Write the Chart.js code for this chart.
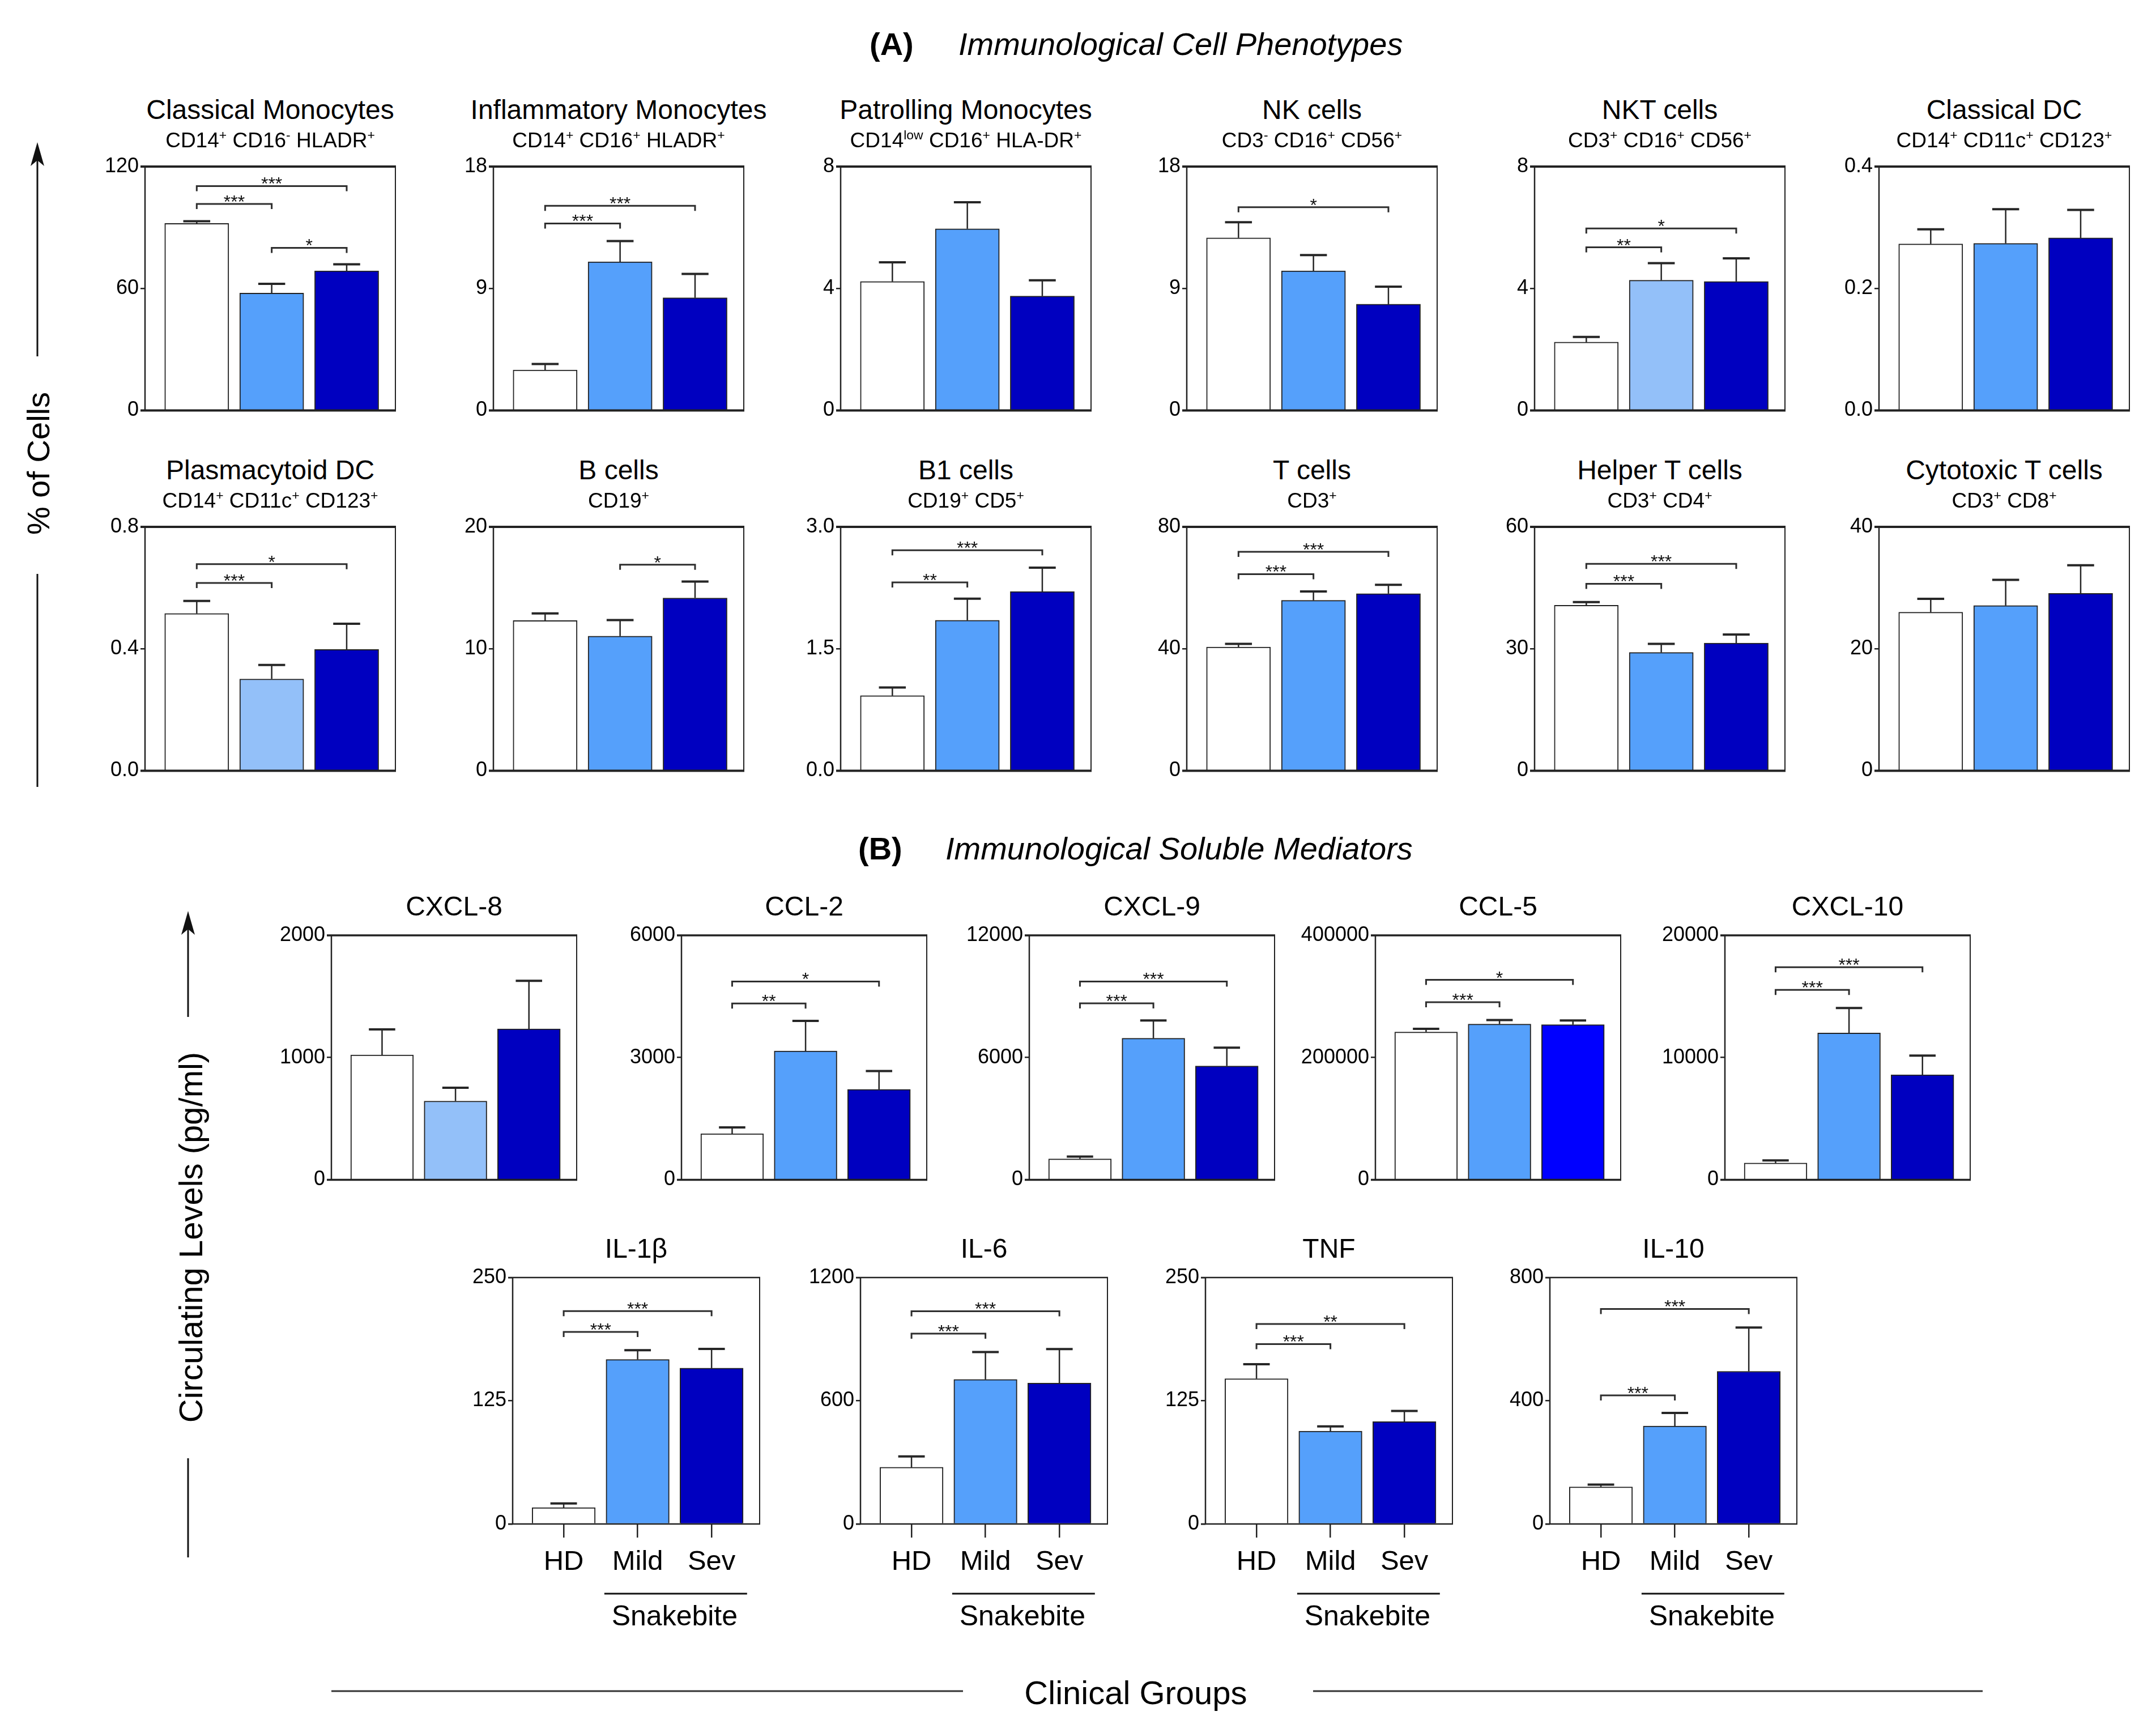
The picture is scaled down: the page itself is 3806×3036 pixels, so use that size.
<!DOCTYPE html>
<html><head><meta charset="utf-8">
<script src="https://cdn.jsdelivr.net/npm/chart.js@4.4.1/dist/chart.umd.min.js"></script>
<style>
html,body{margin:0;padding:0;background:#fff;}
#page{position:relative;width:3806px;height:3036px;overflow:hidden;background:#fff;font-family:"Liberation Sans",Arial,Helvetica,sans-serif;color:#000;}
.t{position:absolute;white-space:nowrap;line-height:1;transform:translate(-50%,-50%);}
.l{position:absolute;white-space:nowrap;line-height:1;transform:translate(0,-50%);}
.r{position:absolute;white-space:nowrap;line-height:1;transform:translate(-50%,-50%) rotate(-90deg);}
.sp{font-size:0.62em;position:relative;top:-0.6em;}
canvas{position:absolute;}
svg{position:absolute;left:0;top:0;}
</style></head><body><div id="page"></div>
<script>
// ---------------- DATA ----------------
const groups = ['HD', 'Mild', 'Sev'];

// (A) Immunological cell phenotypes (% of cells): mean, SEM, y ticks, significance [a, b, level, label]
const clasMonoMean = [92.0, 57.7, 68.7];   const clasMonoSem = [1.1, 4.6, 3.2];
const clasMonoTicks = ['0', '60', '120'];  const clasMonoSig = [[0,1,101.6,'***'],[0,2,110.4,'***'],[1,2,80.0,'*']];
const inflMonoMean = [2.98, 10.97, 8.31];  const inflMonoSem = [0.44, 1.53, 1.76];
const inflMonoTicks = ['0', '9', '18'];    const inflMonoSig = [[0,1,13.8,'***'],[0,2,15.1,'***']];
const patrMonoMean = [4.23, 5.96, 3.75];   const patrMonoSem = [0.63, 0.87, 0.52];
const patrMonoTicks = ['0', '4', '8'];     const patrMonoSig = [];
const nkMean = [12.74, 10.3, 7.84];        const nkSem = [1.15, 1.17, 1.29];
const nkTicks = ['0', '9', '18'];          const nkSig = [[0,2,15.0,'*']];
const nktMean = [2.24, 4.27, 4.23];        const nktSem = [0.17, 0.56, 0.76];
const nktTicks = ['0', '4', '8'];          const nktSig = [[0,1,5.35,'**'],[0,2,5.97,'*']];
const cdcMean = [0.273, 0.274, 0.283];     const cdcSem = [0.024, 0.056, 0.046];
const cdcTicks = ['0.0', '0.2', '0.4'];    const cdcSig = [];
const pdcMean = [0.516, 0.301, 0.398];     const pdcSem = [0.041, 0.046, 0.084];
const pdcTicks = ['0.0', '0.4', '0.8'];    const pdcSig = [[0,1,0.616,'***'],[0,2,0.678,'*']];
const bMean = [12.32, 11.04, 14.17];       const bSem = [0.58, 1.32, 1.35];
const bTicks = ['0', '10', '20'];          const bSig = [[1,2,16.9,'*']];
const b1Mean = [0.924, 1.851, 2.205];      const b1Sem = [0.10, 0.266, 0.293];
const b1Ticks = ['0.0', '1.5', '3.0'];     const b1Sig = [[0,1,2.317,'**'],[0,2,2.712,'***']];
const tMean = [40.6, 55.9, 58.1];          const tSem = [1.0, 2.9, 2.9];
const tTicks = ['0', '40', '80'];          const tSig = [[0,1,64.5,'***'],[0,2,71.8,'***']];
const thMean = [40.7, 29.1, 31.4];         const thSem = [0.8, 2.1, 2.1];
const thTicks = ['0', '30', '60'];         const thSig = [[0,1,46.0,'***'],[0,2,50.9,'***']];
const tcMean = [26.0, 27.1, 29.1];         const tcSem = [2.2, 4.2, 4.6];
const tcTicks = ['0', '20', '40'];         const tcSig = [];

// (B) Immunological soluble mediators (pg/ml)
const cxcl8Mean = [1021, 644, 1235];       const cxcl8Sem = [209, 109, 393];
const cxcl8Ticks = ['0', '1000', '2000'];  const cxcl8Sig = [];
const ccl2Mean = [1132, 3161, 2218];       const ccl2Sem = [154, 738, 451];
const ccl2Ticks = ['0', '3000', '6000'];   const ccl2Sig = [[0,1,4329,'**'],[0,2,4867,'*']];
const cxcl9Mean = [1025, 6948, 5585];      const cxcl9Sem = [112, 871, 902];
const cxcl9Ticks = ['0', '6000', '12000']; const cxcl9Sig = [[0,1,8660,'***'],[0,2,9736,'***']];
const ccl5Mean = [241800, 254800, 253800]; const ccl5Sem = [5200, 6500, 6800];
const ccl5Ticks = ['0', '200000', '400000']; const ccl5Sig = [[0,1,290700,'***'],[0,2,327200,'*']];
const cxcl10Mean = [1366, 12007, 8591];    const cxcl10Sem = [222, 2049, 1571];
const cxcl10Ticks = ['0', '10000', '20000']; const cxcl10Sig = [[0,1,15542,'***'],[0,2,17387,'***']];
const il1bMean = [16.6, 166.9, 158.1];     const il1bSem = [4.2, 9.4, 19.5];
const il1bTicks = ['0', '125', '250'];     const il1bSig = [[0,1,194.8,'***'],[0,2,215.9,'***']];
const il6Mean = [276, 704, 686];           const il6Sem = [53, 133, 166];
const il6Ticks = ['0', '600', '1200'];     const il6Sig = [[0,1,927,'***'],[0,2,1036,'***']];
const tnfMean = [147.4, 94.2, 103.9];      const tnfSem = [14.6, 4.8, 10.7];
const tnfTicks = ['0', '125', '250'];      const tnfSig = [[0,1,182.5,'***'],[0,2,202.9,'**']];
const il10Mean = [120.5, 317.9, 495.6];    const il10Sem = [7.3, 42.6, 142.3];
const il10Ticks = ['0', '400', '800'];     const il10Sig = [[0,1,417.7,'***'],[0,2,698,'***']];

// ---------------- STYLE / LAYOUT ----------------
const FONT = '"Liberation Sans", Arial, Helvetica, sans-serif';
const C_HD = '#ffffff', C_MILD = '#55a0fb', C_MILD_L = '#93c0f9', C_SEV = '#0000c0', C_SEV_B = '#0000ff';
const STD = [C_HD, C_MILD, C_SEV], LIGHT = [C_HD, C_MILD_L, C_SEV], BRIGHT = [C_HD, C_MILD, C_SEV_B];
const XMIN = -0.69, XMAX = 2.65;
Chart.defaults.font.family = FONT;

const page = document.getElementById('page');
function cd(parts) { return parts.map(([b, s]) => s ? b + '<span class="sp">' + s + '</span>' : b).join(' '); }
function text(html, x, y, size, cls, extra) {
  const d = document.createElement('div');
  d.className = cls || 't';
  d.style.left = x + 'px'; d.style.top = y + 'px'; d.style.fontSize = size + 'px';
  if (extra) Object.assign(d.style, extra);
  d.innerHTML = html; page.appendChild(d); return d;
}

const overlay = {
  id: 'overlay',
  afterDatasetsDraw(chart, args, o) {
    const ctx = chart.ctx, meta = chart.getDatasetMeta(0), ys = chart.scales.y, p = o.panel;
    ctx.save();
    ctx.strokeStyle = '#262626';
    meta.data.forEach((bar, i) => {
      const y0 = ys.getPixelForValue(p.mean[i]), y1 = ys.getPixelForValue(p.mean[i] + p.sem[i]);
      const cap = bar.width * 0.42;
      ctx.lineWidth = 2.5;
      ctx.beginPath(); ctx.moveTo(bar.x, y0); ctx.lineTo(bar.x, y1); ctx.stroke();
      ctx.lineWidth = 4;
      ctx.beginPath(); ctx.moveTo(bar.x - cap / 2, y1); ctx.lineTo(bar.x + cap / 2, y1); ctx.stroke();
    });
    ctx.lineWidth = 3; ctx.strokeStyle = '#2e2e2e'; ctx.fillStyle = '#111';
    ctx.font = '32px ' + FONT; ctx.textAlign = 'center'; ctx.textBaseline = 'alphabetic';
    p.sig.forEach(([a, b, lv, lab]) => {
      const xa = meta.data[a].x, xb = meta.data[b].x, y = ys.getPixelForValue(lv);
      ctx.beginPath(); ctx.moveTo(xa, y + 9); ctx.lineTo(xa, y); ctx.lineTo(xb, y); ctx.lineTo(xb, y + 9); ctx.stroke();
      ctx.fillText(lab, (xa + xb) / 2, y + 7);
    });
    ctx.restore();
  },
  afterDraw(chart, args, o) {
    const ctx = chart.ctx, ca = chart.chartArea;
    ctx.save(); ctx.strokeStyle = '#222';
    ctx.lineWidth = o.frameW;
    ctx.beginPath(); ctx.moveTo(ca.left - 8, ca.top); ctx.lineTo(ca.right + 1, ca.top); ctx.stroke();
    ctx.beginPath(); ctx.moveTo(ca.left - 8, ca.bottom); ctx.lineTo(ca.right + 1, ca.bottom); ctx.stroke();
    ctx.lineWidth = 2.5;
    ctx.beginPath(); ctx.moveTo(ca.left, ca.top); ctx.lineTo(ca.left, ca.bottom); ctx.stroke();
    ctx.lineWidth = 2;
    ctx.beginPath(); ctx.moveTo(ca.right, ca.top); ctx.lineTo(ca.right, ca.bottom); ctx.stroke();
    ctx.restore();
  }
};

function panel(p, left, top, w, h, showX, frameW) {
  const PADL = 170, PADT = 30, PADR = 20, XH = showX ? 110 : 0, PADB = showX ? 0 : 20;
  const cw = PADL + w + PADR, ch = PADT + h + XH + PADB;
  const cv = document.createElement('canvas');
  cv.width = cw; cv.height = ch;
  Object.assign(cv.style, { left: (left - PADL) + 'px', top: (top - PADT) + 'px', width: cw + 'px', height: ch + 'px' });
  page.appendChild(cv);
  const tickVals = p.ticks.map(Number);
  const barPx = 0.855 * w / (XMAX - XMIN);
  new Chart(cv, {
    type: 'bar',
    data: { datasets: [{
      data: p.mean.map((v, i) => ({ x: i, y: v })),
      backgroundColor: p.colors, borderColor: '#222', borderWidth: 2, barThickness: barPx
    }] },
    options: {
      responsive: false, animation: false, devicePixelRatio: 1,
      layout: { padding: { left: 0, right: PADR, top: PADT, bottom: PADB } },
      plugins: { legend: { display: false }, tooltip: { enabled: false }, overlay: { panel: p, frameW: frameW } },
      scales: {
        x: {
          type: 'linear', min: XMIN, max: XMAX, offset: false, display: showX,
          afterBuildTicks: s => { s.ticks = [0, 1, 2].map(v => ({ value: v })); },
          afterFit: s => { s.height = XH; },
          ticks: { autoSkip: false, maxRotation: 0, padding: 14, color: '#000', font: { family: FONT, size: 49 },
                   callback: v => groups[v] !== undefined ? groups[v] : '' },
          grid: { drawOnChartArea: false, drawTicks: true, tickLength: 24, color: '#222', lineWidth: 2.5, offset: false },
          border: { display: false }
        },
        y: {
          min: 0, max: tickVals[tickVals.length - 1],
          afterBuildTicks: s => { s.ticks = tickVals.map(v => ({ value: v })); },
          afterFit: s => { s.width = PADL; },
          ticks: { autoSkip: false, padding: 3, color: '#000', font: { family: FONT, size: 36 },
                   callback: (v, i) => p.ticks[i] },
          grid: { drawOnChartArea: false, drawTicks: true, tickLength: 8, color: '#222', lineWidth: 2.5 },
          border: { display: false }
        }
      }
    },
    plugins: [overlay]
  });
}

// ---------------- PANELS ----------------
const rowA1 = [
  { title: 'Classical Monocytes', sub: cd([['CD14','+'],['CD16','-'],['HLADR','+']]), mean: clasMonoMean, sem: clasMonoSem, ticks: clasMonoTicks, sig: clasMonoSig, colors: STD },
  { title: 'Inflammatory Monocytes', sub: cd([['CD14','+'],['CD16','+'],['HLADR','+']]), mean: inflMonoMean, sem: inflMonoSem, ticks: inflMonoTicks, sig: inflMonoSig, colors: STD },
  { title: 'Patrolling Monocytes', sub: cd([['CD14','low'],['CD16','+'],['HLA-DR','+']]), mean: patrMonoMean, sem: patrMonoSem, ticks: patrMonoTicks, sig: patrMonoSig, colors: STD },
  { title: 'NK cells', sub: cd([['CD3','-'],['CD16','+'],['CD56','+']]), mean: nkMean, sem: nkSem, ticks: nkTicks, sig: nkSig, colors: STD },
  { title: 'NKT cells', sub: cd([['CD3','+'],['CD16','+'],['CD56','+']]), mean: nktMean, sem: nktSem, ticks: nktTicks, sig: nktSig, colors: LIGHT },
  { title: 'Classical DC', sub: cd([['CD14','+'],['CD11c','+'],['CD123','+']]), mean: cdcMean, sem: cdcSem, ticks: cdcTicks, sig: cdcSig, colors: STD }
];
const rowA2 = [
  { title: 'Plasmacytoid DC', sub: cd([['CD14','+'],['CD11c','+'],['CD123','+']]), mean: pdcMean, sem: pdcSem, ticks: pdcTicks, sig: pdcSig, colors: LIGHT },
  { title: 'B cells', sub: cd([['CD19','+']]), mean: bMean, sem: bSem, ticks: bTicks, sig: bSig, colors: STD },
  { title: 'B1 cells', sub: cd([['CD19','+'],['CD5','+']]), mean: b1Mean, sem: b1Sem, ticks: b1Ticks, sig: b1Sig, colors: STD },
  { title: 'T cells', sub: cd([['CD3','+']]), mean: tMean, sem: tSem, ticks: tTicks, sig: tSig, colors: STD },
  { title: 'Helper T cells', sub: cd([['CD3','+'],['CD4','+']]), mean: thMean, sem: thSem, ticks: thTicks, sig: thSig, colors: STD },
  { title: 'Cytotoxic T cells', sub: cd([['CD3','+'],['CD8','+']]), mean: tcMean, sem: tcSem, ticks: tcTicks, sig: tcSig, colors: STD }
];
const rowB1 = [
  { title: 'CXCL-8', mean: cxcl8Mean, sem: cxcl8Sem, ticks: cxcl8Ticks, sig: cxcl8Sig, colors: LIGHT },
  { title: 'CCL-2', mean: ccl2Mean, sem: ccl2Sem, ticks: ccl2Ticks, sig: ccl2Sig, colors: STD },
  { title: 'CXCL-9', mean: cxcl9Mean, sem: cxcl9Sem, ticks: cxcl9Ticks, sig: cxcl9Sig, colors: STD },
  { title: 'CCL-5', mean: ccl5Mean, sem: ccl5Sem, ticks: ccl5Ticks, sig: ccl5Sig, colors: BRIGHT },
  { title: 'CXCL-10', mean: cxcl10Mean, sem: cxcl10Sem, ticks: cxcl10Ticks, sig: cxcl10Sig, colors: STD }
];
const rowB2 = [
  { title: 'IL-1β', mean: il1bMean, sem: il1bSem, ticks: il1bTicks, sig: il1bSig, colors: STD },
  { title: 'IL-6', mean: il6Mean, sem: il6Sem, ticks: il6Ticks, sig: il6Sig, colors: STD },
  { title: 'TNF', mean: tnfMean, sem: tnfSem, ticks: tnfTicks, sig: tnfSig, colors: STD },
  { title: 'IL-10', mean: il10Mean, sem: il10Sem, ticks: il10Ticks, sig: il10Sig, colors: STD }
];

const A_LEFTS = [256, 871, 1484, 2095, 2709, 3317], A_W = 442, A_H = 435, A_TOPS = [294, 930];
const B1_LEFTS = [585, 1203, 1817, 2428, 3045], B1_W = 433, B1_TOP = 1651, B_H = 436;
const B2_LEFTS = [905, 1519, 2128, 2736], B2_W = 436, B2_TOP = 2255, B2_H = 435;

[rowA1, rowA2].forEach((row, r) => row.forEach((p, i) => {
  const left = A_LEFTS[i], top = A_TOPS[r];
  panel(p, left, top, A_W, A_H, false, 4);
  text(p.title, left + A_W / 2, top - 100, 48);
  text(p.sub, left + A_W / 2, top - 47, 37);
}));
rowB1.forEach((p, i) => {
  const left = B1_LEFTS[i];
  panel(p, left, B1_TOP, B1_W, B_H, false, 3.5);
  text(p.title, left + B1_W / 2, B1_TOP - 51, 48);
});
const px = (left, w, v) => left + (v - XMIN) / (XMAX - XMIN) * w;
let svg = '';
rowB2.forEach((p, i) => {
  const left = B2_LEFTS[i];
  panel(p, left, B2_TOP, B2_W, B2_H, true, 2.5);
  text(p.title, left + B2_W / 2, B2_TOP - 51, 48);
  const x1 = px(left, B2_W, 0.55), x2 = px(left, B2_W, 2.48);
  svg += `<line x1="${x1}" y1="2813" x2="${x2}" y2="2813" stroke="#111" stroke-width="3"/>`;
  text('Snakebite', px(left, B2_W, 1.5), 2852, 50);
});

// Headings and axis labels
text('<b>(A)</b>', 1535, 78, 56, 'l');
text('<i>Immunological Cell Phenotypes</i>', 1692, 78, 56, 'l');
text('<b>(B)</b>', 1515, 1498, 56, 'l');
text('<i>Immunological Soluble Mediators</i>', 1669, 1498, 56, 'l');
text('% of Cells', 68, 818, 56, 'r');
text('Circulating Levels (pg/ml)', 337, 2184, 58, 'r');
text('Clinical Groups', 2005, 2988, 58);

function arrow(x, tip, base) {
  return `<line x1="${x}" y1="${base}" x2="${x}" y2="${tip + 20}" stroke="#111" stroke-width="3"/>` +
         `<polygon points="${x},${tip} ${x - 12},${tip + 42} ${x},${tip + 32} ${x + 12},${tip + 42}" fill="#111"/>`;
}
svg += arrow(66, 251, 629);
svg += `<line x1="66" y1="1013" x2="66" y2="1389" stroke="#111" stroke-width="3"/>`;
svg += arrow(332, 1608, 1795);
svg += `<line x1="332" y1="2574" x2="332" y2="2749" stroke="#111" stroke-width="3"/>`;
svg += `<line x1="585" y1="2985" x2="1700" y2="2985" stroke="#333" stroke-width="3"/>`;
svg += `<line x1="2318" y1="2985" x2="3500" y2="2985" stroke="#333" stroke-width="3"/>`;
const s = document.createElementNS('http://www.w3.org/2000/svg', 'svg');
s.setAttribute('width', '3806'); s.setAttribute('height', '3036');
s.innerHTML = svg; page.appendChild(s);
</script>
</body></html>
